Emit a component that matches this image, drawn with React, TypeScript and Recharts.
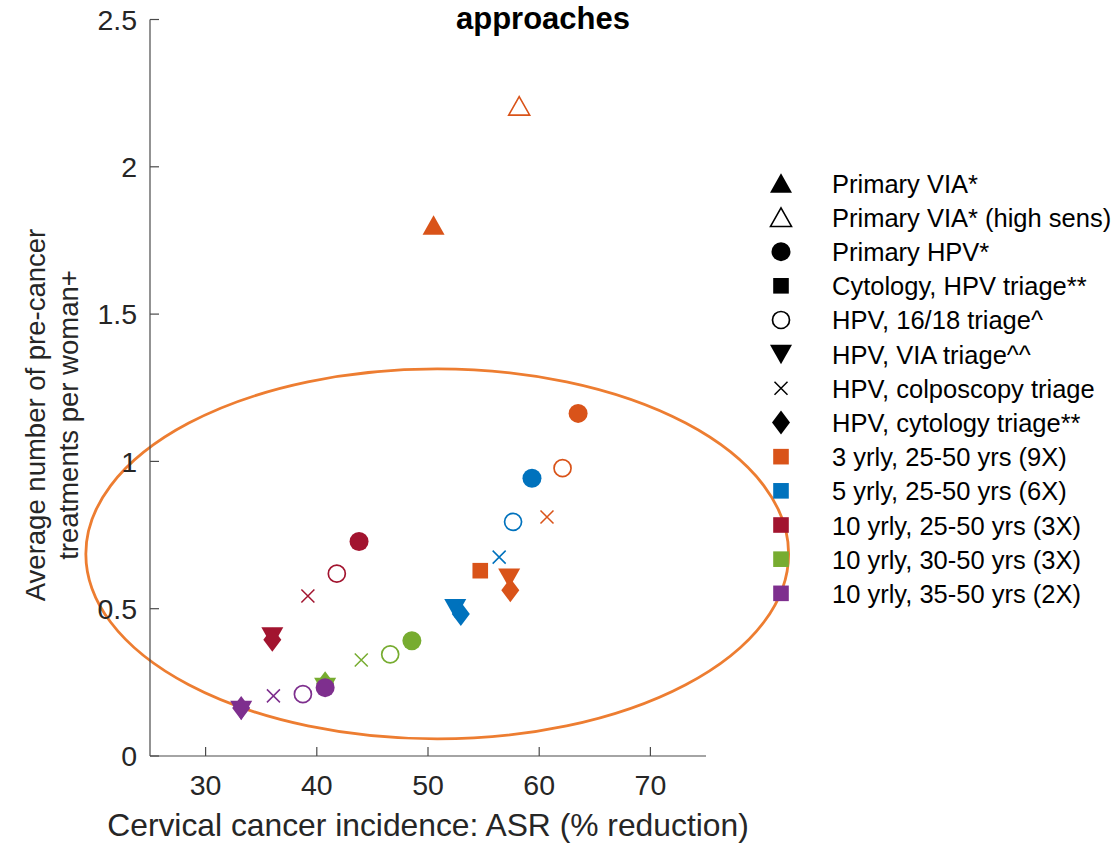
import React from 'react';
import { ScatterChart, Scatter, XAxis, YAxis, ReferenceArea, Label } from 'recharts';

const FONT = '"Liberation Sans", Arial, Helvetica, sans-serif';

const xTicks = [30, 40, 50, 60, 70];
const yTicks = [0, 0.5, 1, 1.5, 2, 2.5];

const titleText = 'approaches';
const xAxisLabel = 'Cervical cancer incidence: ASR (% reduction)';
const yAxisLabelLines = ['Average number of pre-cancer', 'treatments per woman+'];

const methodLabels = [
  'Primary VIA*',
  'Primary VIA* (high sens)',
  'Primary HPV*',
  'Cytology, HPV triage**',
  'HPV, 16/18 triage^',
  'HPV, VIA triage^^',
  'HPV, colposcopy triage',
  'HPV, cytology triage**',
];
const methodMarkers = ['triangleUp', 'triangleUpOpen', 'circle', 'square', 'circleOpen', 'triangleDown', 'cross', 'diamond'];

const groupLabels = [
  '3 yrly, 25-50 yrs (9X)',
  '5 yrly, 25-50 yrs (6X)',
  '10 yrly, 25-50 yrs (3X)',
  '10 yrly, 30-50 yrs (3X)',
  '10 yrly, 35-50 yrs (2X)',
];
const groupColors = ['#D95319', '#0072BD', '#A2142F', '#77AC30', '#7E2F8E'];

// method index, x = incidence reduction (%), y = treatments per woman
const yrly3Age25 = [
  { method: 0, x: 50.5, y: 1.802 },
  { method: 1, x: 58.2, y: 2.206 },
  { method: 2, x: 63.5, y: 1.163 },
  { method: 3, x: 54.7, y: 0.629 },
  { method: 4, x: 62.1, y: 0.977 },
  { method: 5, x: 57.3, y: 0.604 },
  { method: 6, x: 60.7, y: 0.811 },
  { method: 7, x: 57.4, y: 0.563 },
];
const yrly5Age25 = [
  { method: 2, x: 59.35, y: 0.943 },
  { method: 4, x: 57.65, y: 0.795 },
  { method: 6, x: 56.4, y: 0.675 },
  { method: 5, x: 52.45, y: 0.501 },
  { method: 7, x: 52.95, y: 0.482 },
];
const yrly10Age25 = [
  { method: 2, x: 43.8, y: 0.728 },
  { method: 4, x: 41.8, y: 0.619 },
  { method: 6, x: 39.2, y: 0.543 },
  { method: 5, x: 36.0, y: 0.405 },
  { method: 7, x: 36.0, y: 0.395 },
];
const yrly10Age30 = [
  { method: 2, x: 48.55, y: 0.391 },
  { method: 4, x: 46.6, y: 0.345 },
  { method: 6, x: 44.0, y: 0.326 },
  { method: 5, x: 40.75, y: 0.233 },
  { method: 7, x: 40.75, y: 0.247 },
];
const yrly10Age35 = [
  { method: 2, x: 40.75, y: 0.232 },
  { method: 4, x: 38.75, y: 0.21 },
  { method: 6, x: 36.1, y: 0.204 },
  { method: 5, x: 33.2, y: 0.155 },
  { method: 7, x: 33.2, y: 0.163 },
];
const groupData = [yrly3Age25, yrly5Age25, yrly10Age25, yrly10Age30, yrly10Age35];

// highlighted ellipse (data coords): centre and radii
const ellipseCenter = { x: 50.83, y: 0.686 };
const ellipseRadius = { x: 31.6, y: 0.628 };

const renderMarker = (kind: string, cx: number, cy: number, color: string) => {
  switch (kind) {
    case 'triangleUp':
      return <polygon points={`${cx},${cy - 10} ${cx + 11},${cy + 9.5} ${cx - 11},${cy + 9.5}`} fill={color} />;
    case 'triangleUpOpen':
      return (
        <polygon
          points={`${cx},${cy - 9.5} ${cx + 10.5},${cy + 9} ${cx - 10.5},${cy + 9}`}
          fill="none"
          stroke={color}
          strokeWidth={1.6}
        />
      );
    case 'circle':
      return <circle cx={cx} cy={cy} r={9.5} fill={color} />;
    case 'circleOpen':
      return <circle cx={cx} cy={cy} r={8.5} fill="none" stroke={color} strokeWidth={1.7} />;
    case 'square':
      return <rect x={cx - 7.8} y={cy - 7.8} width={15.6} height={15.6} fill={color} />;
    case 'triangleDown':
      return <polygon points={`${cx - 11},${cy - 9.5} ${cx + 11},${cy - 9.5} ${cx},${cy + 10}`} fill={color} />;
    case 'cross':
      return (
        <path
          d={`M${cx - 6.5},${cy - 6.5}L${cx + 6.5},${cy + 6.5}M${cx + 6.5},${cy - 6.5}L${cx - 6.5},${cy + 6.5}`}
          stroke={color}
          strokeWidth={1.5}
          fill="none"
        />
      );
    case 'diamond':
      return <polygon points={`${cx},${cy - 12} ${cx + 9},${cy} ${cx},${cy + 12} ${cx - 9},${cy}`} fill={color} />;
    default:
      return <g />;
  }
};

const makeShape = (color: string) => (props: any) => {
  const { cx, cy, payload } = props;
  if (cx == null || cy == null) return <g />;
  return <g>{renderMarker(methodMarkers[payload.method], cx, cy, color)}</g>;
};

const tickStyle = { fontSize: 28.5, fill: '#262626', fontFamily: FONT };

const LEG_X = 781;
const LEG_TEXT_X = 832;
const LEG_Y0 = 183.3;
const LEG_DY = 34.17;

export default function App() {
  return (
    <div style={{ position: 'absolute', left: 0, top: 0, width: 1119, height: 845, background: '#fff', fontFamily: FONT }}>
      <ScatterChart width={1119} height={845} margin={{ top: 19.5, right: 413, bottom: 0, left: 0 }}>
        <XAxis
          type="number"
          dataKey="x"
          domain={[25, 75]}
          ticks={xTicks}
          interval={0}
          allowDataOverflow
          height={89}
          tickSize={-9}
          tickMargin={28}
          tick={tickStyle}
          axisLine={{ stroke: '#4a4a4a', strokeWidth: 1.2 }}
          tickLine={{ stroke: '#4a4a4a', strokeWidth: 1.2 }}
        >
          <Label
            value={xAxisLabel}
            position="insideBottom"
            offset={9}
            style={{ fontSize: 31.8, fill: '#262626', fontFamily: FONT }}
          />
        </XAxis>
        <YAxis
          type="number"
          dataKey="y"
          domain={[0, 2.5]}
          ticks={yTicks}
          interval={0}
          allowDataOverflow
          width={150}
          tickSize={-9}
          tickMargin={22}
          tick={tickStyle}
          axisLine={{ stroke: '#4a4a4a', strokeWidth: 1.2 }}
          tickLine={{ stroke: '#4a4a4a', strokeWidth: 1.2 }}
        />
        {groupData.map((data, gi) => (
          <Scatter
            key={groupLabels[gi]}
            name={groupLabels[gi]}
            data={data}
            isAnimationActive={false}
            shape={makeShape(groupColors[gi])}
          />
        ))}
        <ReferenceArea
          x1={ellipseCenter.x - ellipseRadius.x}
          x2={ellipseCenter.x + ellipseRadius.x}
          y1={ellipseCenter.y - ellipseRadius.y}
          y2={ellipseCenter.y + ellipseRadius.y}
          ifOverflow="visible"
          shape={(p: any) => (
            <ellipse
              cx={p.x + p.width / 2}
              cy={p.y + p.height / 2}
              rx={Math.abs(p.width / 2)}
              ry={Math.abs(p.height / 2)}
              fill="none"
              stroke="#ED7D31"
              strokeWidth={2.8}
            />
          )}
        />
      </ScatterChart>
      <svg
        width={1119}
        height={845}
        style={{ position: 'absolute', left: 0, top: 0, pointerEvents: 'none' }}
      >
        <text x={543} y={29} textAnchor="middle" fontSize={31} fontWeight="bold" fill="#000" fontFamily={FONT}>
          {titleText}
        </text>
        <g transform="translate(0,415) rotate(-90)" fontFamily={FONT} fontSize={27.5} fill="#262626">
          <text x={0} y={45} textAnchor="middle">{yAxisLabelLines[0]}</text>
          <text x={0} y={78} textAnchor="middle">{yAxisLabelLines[1]}</text>
        </g>
        {methodLabels.map((label, i) => {
          const cy = LEG_Y0 + i * LEG_DY;
          return (
            <g key={label}>
              {renderMarker(methodMarkers[i], LEG_X, cy, '#000')}
              <text x={LEG_TEXT_X} y={cy + 9.5} fontSize={25.5} fill="#000" fontFamily={FONT}>
                {label}
              </text>
            </g>
          );
        })}
        {groupLabels.map((label, i) => {
          const cy = LEG_Y0 + (methodLabels.length + i) * LEG_DY;
          return (
            <g key={label}>
              <rect x={LEG_X - 7.8} y={cy - 7.8} width={15.6} height={15.6} fill={groupColors[i]} />
              <text x={LEG_TEXT_X} y={cy + 9.5} fontSize={25.5} fill="#000" fontFamily={FONT}>
                {label}
              </text>
            </g>
          );
        })}
      </svg>
    </div>
  );
}
